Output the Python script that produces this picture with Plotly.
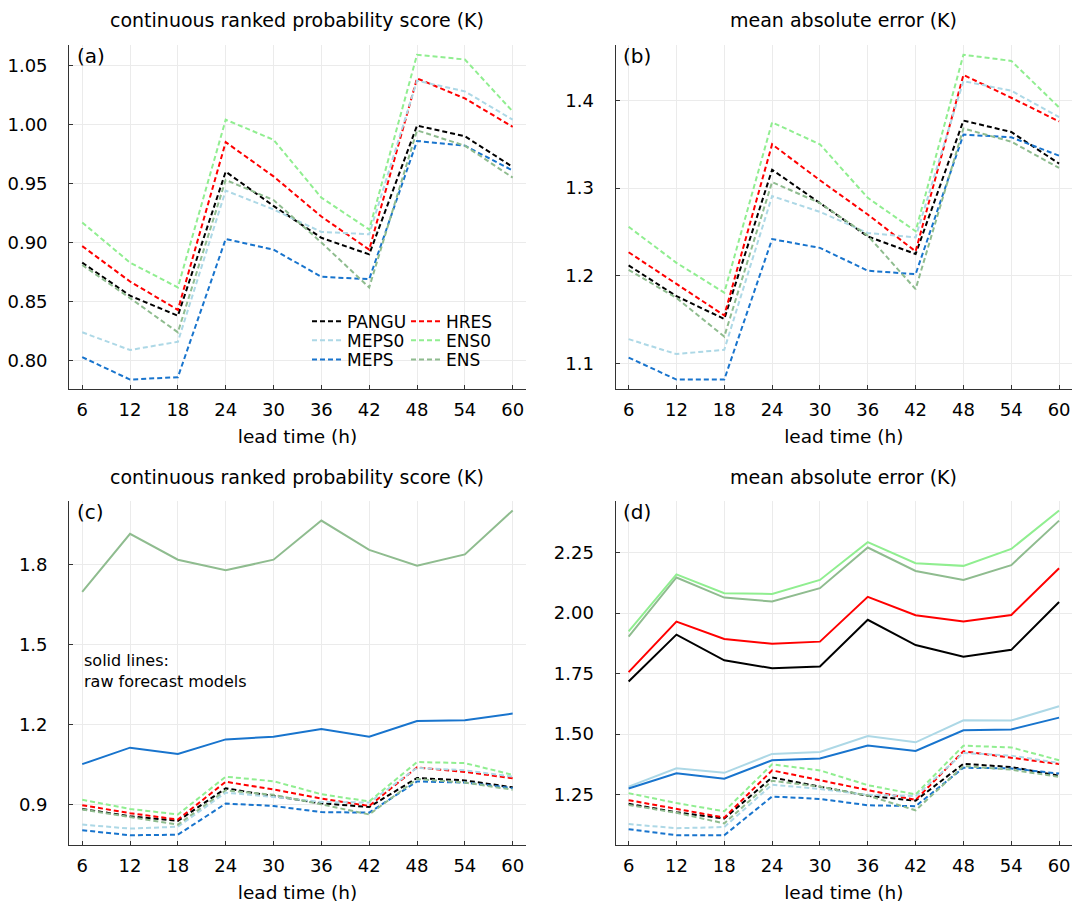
import plotly.graph_objects as go

# ---------------- data ----------------
lead_time = [6, 12, 18, 24, 30, 36, 42, 48, 54, 60]
models = ["PANGU", "HRES", "MEPS0", "ENS0", "MEPS", "ENS"]

# post-processed CRPS (K), panel (a) and dashed lines in (c)
crps_pp_PANGU = [0.883, 0.855, 0.838, 0.960, 0.931, 0.904, 0.890, 0.999, 0.990, 0.964]
crps_pp_HRES = [0.897, 0.867, 0.843, 0.985, 0.956, 0.922, 0.894, 1.039, 1.022, 0.998]
crps_pp_MEPS0 = [0.824, 0.809, 0.816, 0.944, 0.928, 0.909, 0.907, 1.037, 1.028, 1.004]
crps_pp_ENS0 = [0.917, 0.883, 0.862, 1.004, 0.987, 0.938, 0.911, 1.059, 1.055, 1.011]
crps_pp_MEPS = [0.803, 0.784, 0.786, 0.903, 0.894, 0.871, 0.869, 0.986, 0.982, 0.961]
crps_pp_ENS = [0.881, 0.853, 0.824, 0.953, 0.936, 0.900, 0.862, 0.995, 0.982, 0.955]

# post-processed MAE (K), panel (b) and dashed lines in (d)
mae_pp_PANGU = [1.212, 1.177, 1.151, 1.321, 1.283, 1.245, 1.225, 1.377, 1.364, 1.328]
mae_pp_HRES = [1.227, 1.191, 1.155, 1.350, 1.309, 1.270, 1.228, 1.429, 1.403, 1.376]
mae_pp_MEPS0 = [1.128, 1.111, 1.116, 1.291, 1.273, 1.249, 1.244, 1.422, 1.411, 1.381]
mae_pp_ENS0 = [1.256, 1.215, 1.181, 1.375, 1.350, 1.289, 1.251, 1.452, 1.445, 1.392]
mae_pp_MEPS = [1.107, 1.082, 1.082, 1.242, 1.232, 1.206, 1.202, 1.361, 1.358, 1.337]
mae_pp_ENS = [1.207, 1.175, 1.131, 1.307, 1.283, 1.246, 1.185, 1.368, 1.353, 1.323]

# raw forecast CRPS (K), solid lines in (c)
crps_raw_ENS = [1.698, 1.916, 1.819, 1.779, 1.819, 1.966, 1.856, 1.796, 1.839, 2.004]
crps_raw_MEPS = [1.051, 1.113, 1.089, 1.144, 1.154, 1.183, 1.154, 1.213, 1.216, 1.241]

# raw forecast MAE (K), solid lines in (d)
mae_raw_PANGU = [1.717, 1.911, 1.805, 1.772, 1.779, 1.972, 1.868, 1.820, 1.848, 2.046]
mae_raw_HRES = [1.756, 1.965, 1.893, 1.873, 1.882, 2.067, 1.991, 1.965, 1.992, 2.185]
mae_raw_MEPS0 = [1.283, 1.359, 1.340, 1.418, 1.426, 1.492, 1.466, 1.557, 1.556, 1.615]
mae_raw_ENS0 = [1.924, 2.160, 2.082, 2.079, 2.137, 2.293, 2.206, 2.195, 2.265, 2.424]
mae_raw_MEPS = [1.275, 1.338, 1.316, 1.392, 1.399, 1.453, 1.430, 1.516, 1.519, 1.568]
mae_raw_ENS = [1.903, 2.147, 2.064, 2.048, 2.103, 2.271, 2.174, 2.137, 2.198, 2.382]

titles = ["continuous ranked probability score (K)", "mean absolute error (K)",
          "continuous ranked probability score (K)", "mean absolute error (K)"]
panel_labels = ["(a)", "(b)", "(c)", "(d)"]
x_label = "lead time (h)"
note_text = "solid lines:<br>raw forecast models"

# ---------------- styling ----------------
colors = {"PANGU": "#000000", "HRES": "#ff0000", "MEPS0": "#add8e6",
          "ENS0": "#90ee90", "MEPS": "#1874cd", "ENS": "#8fbc8f"}
legend_of = {"PANGU": "legend", "HRES": "legend", "MEPS0": "legend2",
             "ENS0": "legend2", "MEPS": "legend3", "ENS": "legend3"}
DASH = "5px,3px"
LW = 2.0
FONT = "DejaVu Sans"

crps_pp = {"PANGU": crps_pp_PANGU, "HRES": crps_pp_HRES, "MEPS0": crps_pp_MEPS0,
           "ENS0": crps_pp_ENS0, "MEPS": crps_pp_MEPS, "ENS": crps_pp_ENS}
mae_pp = {"PANGU": mae_pp_PANGU, "HRES": mae_pp_HRES, "MEPS0": mae_pp_MEPS0,
          "ENS0": mae_pp_ENS0, "MEPS": mae_pp_MEPS, "ENS": mae_pp_ENS}
crps_raw = {"ENS": crps_raw_ENS, "MEPS": crps_raw_MEPS}
mae_raw = {"PANGU": mae_raw_PANGU, "HRES": mae_raw_HRES, "MEPS0": mae_raw_MEPS0,
           "ENS0": mae_raw_ENS0, "MEPS": mae_raw_MEPS, "ENS": mae_raw_ENS}

fig = go.Figure()

def add_lines(data, xa, ya, dashed, show_legend=False):
    for m in models:
        if m not in data:
            continue
        fig.add_trace(go.Scatter(
            x=lead_time, y=data[m], mode="lines", name=m,
            xaxis=xa, yaxis=ya,
            line=dict(color=colors[m], width=LW, dash=DASH if dashed else "solid"),
            showlegend=show_legend, legend=legend_of[m],
            hoverinfo="x+y+name"))

add_lines(crps_pp, "x", "y", True, show_legend=True)
add_lines(mae_pp, "x2", "y2", True)
add_lines(crps_raw, "x3", "y3", False)
add_lines(crps_pp, "x3", "y3", True)
add_lines(mae_raw, "x4", "y4", False)
add_lines(mae_pp, "x4", "y4", True)

def pad_range(vals, frac=0.03):
    lo, hi = min(vals), max(vals)
    r = hi - lo
    return [lo - frac * r, hi + frac * r]

def allvals(*dicts):
    out = []
    for d in dicts:
        for v in d.values():
            out.extend(v)
    return out

xr = pad_range(lead_time)
yr_a = pad_range(allvals(crps_pp))
yr_b = pad_range(allvals(mae_pp))
yr_c = pad_range(allvals(crps_pp, crps_raw))
yr_d = pad_range(allvals(mae_pp, mae_raw))

W, H = 1073, 904
xdom_l = [69.3 / W, 525.6 / W]
xdom_r = [615.7 / W, 1072.0 / W]
ydom_t = [1 - 389.3 / H, 1 - 45.0 / H]
ydom_b = [1 - 845.0 / H, 1 - 500.7 / H]

def xaxis(dom, anchor):
    return dict(domain=dom, anchor=anchor, range=xr, tickvals=lead_time,
                ticks="inside", ticklen=4, tickcolor="#333333", tickwidth=1,
                showline=True, linecolor="#333333", linewidth=1.3,
                showgrid=True, gridcolor="#ebebeb", gridwidth=1, zeroline=False,
                tickfont=dict(size=18, color="black", family=FONT),
                ticklabelstandoff=4,
                title=dict(text=x_label, font=dict(size=18.5, color="black", family=FONT),
                           standoff=11))

def yaxis(dom, anchor, rng, dtick, tick0, fmt):
    return dict(domain=dom, anchor=anchor, range=rng, dtick=dtick, tick0=tick0,
                tickformat=fmt, ticks="inside", ticklen=4, tickcolor="#333333",
                tickwidth=1, showline=True, linecolor="#333333", linewidth=1.3,
                showgrid=True, gridcolor="#ebebeb", gridwidth=1, zeroline=False,
                tickfont=dict(size=18, color="black", family=FONT),
                ticklabelstandoff=17)

annotations = []
centers = [sum(xdom_l) / 2, sum(xdom_r) / 2, sum(xdom_l) / 2, sum(xdom_r) / 2]
title_y = [1 - 20 / H, 1 - 20 / H, 1 - 477 / H, 1 - 477 / H]
for t, cx, ty in zip(titles, centers, title_y):
    annotations.append(dict(text=t, x=cx, y=ty, xref="paper", yref="paper",
                            xanchor="center", yanchor="middle", showarrow=False,
                            font=dict(size=19, color="black", family=FONT)))
axis_names = ["x", "x2", "x3", "x4"]
yaxis_names = ["y", "y2", "y3", "y4"]
for lab, xa, ya in zip(panel_labels, axis_names, yaxis_names):
    annotations.append(dict(text=lab, x=0.012, y=0.968, xref=xa + " domain",
                            yref=ya + " domain", xanchor="left", yanchor="middle",
                            showarrow=False,
                            font=dict(size=20, color="black", family=FONT)))
annotations.append(dict(text=note_text, x=6, y=1.4, xref="x3", yref="y3",
                        xanchor="left", yanchor="middle", align="left",
                        showarrow=False,
                        font=dict(size=16, color="black", family=FONT)))

legend_common = dict(orientation="h", bgcolor="rgba(0,0,0,0)", borderwidth=0,
                     font=dict(size=17, color="black", family=FONT),
                     entrywidth=54, entrywidthmode="pixels",
                     xanchor="left", yanchor="middle", itemwidth=30,
                     tracegroupgap=0, itemclick=False)
leg_x = 307 / W

fig.update_layout(
    width=W, height=H, autosize=False,
    margin=dict(l=0, r=0, t=0, b=0),
    paper_bgcolor="white", plot_bgcolor="white",
    font=dict(family=FONT, color="black"),
    xaxis=xaxis(xdom_l, "y"), yaxis=yaxis(ydom_t, "x", yr_a, 0.05, 0.8, ".2f"),
    xaxis2=xaxis(xdom_r, "y2"), yaxis2=yaxis(ydom_t, "x2", yr_b, 0.1, 1.1, ".1f"),
    xaxis3=xaxis(xdom_l, "y3"), yaxis3=yaxis(ydom_b, "x3", yr_c, 0.3, 0.9, ".1f"),
    xaxis4=xaxis(xdom_r, "y4"), yaxis4=yaxis(ydom_b, "x4", yr_d, 0.25, 1.25, ".2f"),
    legend=dict(legend_common, x=leg_x, y=1 - 321.7 / H),
    legend2=dict(legend_common, x=leg_x, y=1 - 340.7 / H),
    legend3=dict(legend_common, x=leg_x, y=1 - 360.0 / H),
    annotations=annotations,
)

fig.write_html("out.html")
